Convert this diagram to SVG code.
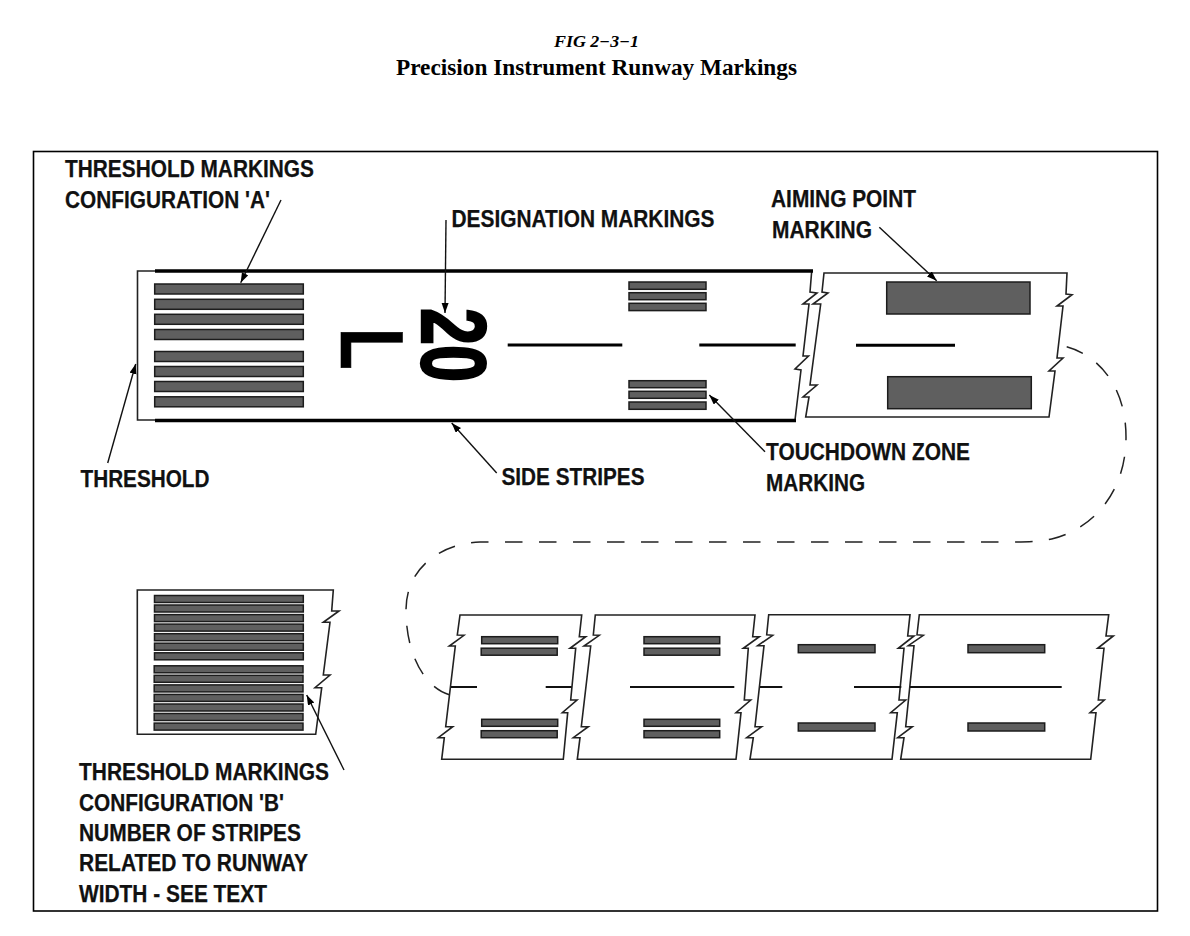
<svg xmlns="http://www.w3.org/2000/svg" width="1190" height="936" viewBox="0 0 1190 936">
<style>
.title{font-family:"Liberation Serif","Times New Roman",serif;font-weight:bold;fill:#000}
.lbl{font-family:"Liberation Sans",Arial,sans-serif;font-weight:bold;font-size:24px;fill:#111;stroke:#111;stroke-width:.25}
.des{font-family:"Liberation Sans",Arial,sans-serif;font-weight:bold;fill:#000;stroke:#000;stroke-width:2.4}
.edge{fill:#fff;stroke:#222;stroke-width:1.6;stroke-linejoin:miter}
.s{fill:#5f5f5f;stroke:#1c1c1c;stroke-width:1.5}
.side{fill:none;stroke:#000;stroke-width:3.4}
.cl{fill:none;stroke:#000;stroke-width:3}
.cl2{fill:none;stroke:#111;stroke-width:2}
.ar{fill:none;stroke:#111;stroke-width:1.4;marker-end:url(#head)}
</style>
<defs>
<marker id="head" markerUnits="userSpaceOnUse" markerWidth="11" markerHeight="8" refX="10" refY="3.5" orient="auto"><path d="M0 0L10 3.5L0 7z" fill="#000"/></marker>
</defs>
<rect width="1190" height="936" fill="#fff"/>
<g id="title">
<text class="title" x="596.5" y="47" text-anchor="middle" font-size="16" font-style="italic" textLength="85" lengthAdjust="spacingAndGlyphs">FIG 2−3−1</text>
<text class="title" x="596.5" y="75" text-anchor="middle" font-size="23" textLength="401" lengthAdjust="spacingAndGlyphs">Precision Instrument Runway Markings</text>
</g>
<rect id="frame" x="33.5" y="151.5" width="1124" height="759.5" fill="none" stroke="#000" stroke-width="1.6"/>

<g id="runway-main">
<path class="edge" d="M155 271H137.500V420H155" style="fill:none"/>
<path class="edge" style="fill:none" d="M811.700 271L810 292L817 293L803 304L809 304L803 356L808.500 356L795 369L801 370L795 420"/>
<path class="side" d="M155 271H813M155 420.500H796"/>
<path class="cl" d="M507.700 345H622.300M699.300 345H795.700"/>
</g>
<g id="threshold-a">
<rect class="s" x="154.700" y="284" width="148.600" height="10"/>
<rect class="s" x="154.700" y="299.300" width="148.600" height="10"/>
<rect class="s" x="154.700" y="314.300" width="148.600" height="10"/>
<rect class="s" x="154.700" y="329.500" width="148.600" height="10"/>
<rect class="s" x="154.700" y="351.500" width="148.600" height="10"/>
<rect class="s" x="154.700" y="366.500" width="148.600" height="10"/>
<rect class="s" x="154.700" y="381.500" width="148.600" height="10"/>
<rect class="s" x="154.700" y="396.800" width="148.600" height="10"/>
</g>
<g id="designation">
<text class="des" transform="translate(422,308) rotate(90) scale(.74,1)" font-size="90" textLength="100" lengthAdjust="spacingAndGlyphs">20</text>
<text class="des" style="stroke-width:.6" transform="translate(341,327.500) rotate(90) scale(.78,1)" font-size="89">L</text>
</g>
<g id="touchdown-main">
<rect class="s" x="629" y="282" width="77" height="7.300"/>
<rect class="s" x="629" y="292.700" width="77" height="7"/>
<rect class="s" x="629" y="303.300" width="77" height="7.300"/>
<rect class="s" x="629" y="380.700" width="77" height="7"/>
<rect class="s" x="629" y="391.300" width="77" height="7"/>
<rect class="s" x="629" y="402" width="77" height="7.300"/>
</g>
<g id="aiming-panel">
<path class="edge" d="M824 273H1067L1066 294L1072 294.700L1057 306L1063 306L1057 358L1063 358L1049 371L1055 371L1049 417H805.700L809 397L803 397L817 385L810 385L820.700 304L813 304L828 293L822 292Z"/>
<rect class="s" x="886.700" y="282" width="143.300" height="32"/>
<rect class="s" x="887.700" y="376.700" width="143.600" height="32"/>
<path class="cl" d="M856 345.300H955"/>
</g>
<g id="threshold-b">
<path class="edge" d="M137.300 590H333.300L331.700 611L339 611L323.300 622.300L330 622.300L323.300 675L330 675L315 687.700L321.700 687.700L315.700 734.300H137.300Z"/>
<rect class="s" x="154.500" y="595.500" width="148.800" height="7"/>
<rect class="s" x="154.500" y="605" width="148.800" height="7"/>
<rect class="s" x="154.500" y="614.600" width="148.800" height="7"/>
<rect class="s" x="154.500" y="624.100" width="148.800" height="7"/>
<rect class="s" x="154.500" y="633.700" width="148.800" height="7"/>
<rect class="s" x="154.500" y="643.200" width="148.800" height="7"/>
<rect class="s" x="154.500" y="652.800" width="148.800" height="7"/>
<rect class="s" x="154.200" y="665.800" width="148.800" height="7"/>
<rect class="s" x="154.200" y="675.300" width="148.800" height="7"/>
<rect class="s" x="154.200" y="684.900" width="148.800" height="7"/>
<rect class="s" x="154.200" y="694.400" width="148.800" height="7"/>
<rect class="s" x="154.200" y="704" width="148.800" height="7"/>
<rect class="s" x="154.200" y="713.500" width="148.800" height="7"/>
<rect class="s" x="154.200" y="723.100" width="148.800" height="7"/>
</g>
<g id="panel-1">
<path class="edge" d="M460 615H581.700L579.300 636.700L585.700 636.700L570 648.300L575.700 648.300L570.700 700L577 700L562.300 712.700L567.700 712.700L563.300 759.300H441.700L444.300 737.700L438.300 737.700L452.700 726.700L445.700 726.700L455.300 646L449.300 646L464 635.300L457.300 635Z"/>
<rect class="s" x="481.700" y="636.700" width="76" height="7"/>
<rect class="s" x="481.200" y="648.200" width="76" height="7"/>
<rect class="s" x="481.700" y="719.300" width="76" height="7"/>
<rect class="s" x="481.200" y="730.700" width="76" height="7"/>
<path class="cl2" d="M451 687H477M545.700 687H571.700"/>
</g>
<g id="panel-2">
<path class="edge" d="M595.300 615H755L752.700 636.700L759.300 636.700L743.300 648.300L748.300 648.300L744.300 700L750.700 700L736 712.700L741 712.700L736 759.300H577.300L580 737.700L573.300 737.700L588.300 726.700L581.300 726.700L590.700 646L584 646L599.300 635.300L593.300 635Z"/>
<rect class="s" x="644" y="636.700" width="75.700" height="7"/>
<rect class="s" x="644" y="648.200" width="75.700" height="7"/>
<rect class="s" x="644" y="719.300" width="75.700" height="7"/>
<rect class="s" x="644" y="730.700" width="75.700" height="7"/>
<path class="cl2" d="M630 687H734.300"/>
</g>
<g id="panel-3">
<path class="edge" d="M768.700 614.700H910L907.700 636L914 636L898.300 648.300L904 648.300L899 700L905.700 700L890.700 712.700L897.300 712.700L892 759.300H750L753.300 737.700L746.700 737.700L761.700 726.700L755 726.700L764 645.700L757.700 645.700L772.700 635.300L766.700 634.700Z"/>
<rect class="s" x="798.300" y="644.700" width="76.700" height="8"/>
<rect class="s" x="798.300" y="723" width="76.700" height="8"/>
<path class="cl2" d="M760 687H782.300M854 687H901.300"/>
</g>
<g id="panel-4">
<path class="edge" d="M919.300 614.700H1108.700L1106 636L1113.300 636L1097.700 648.300L1104 648.300L1098.300 700L1104.300 700L1090 712.700L1096 712.700L1090.700 759.300H900.700L904 737.700L897.700 737.700L912.300 726.700L905.700 726.700L914 645.700L908.300 645.700L923.300 635.300L917 634.700Z"/>
<rect class="s" x="968" y="644.700" width="76.700" height="8"/>
<rect class="s" x="968" y="723" width="76.700" height="8"/>
<path class="cl2" d="M910 687H1061.700"/>
</g>
<g id="connectors">
<path d="M1066.700 346.700C1097 355 1126 385 1126 437C1126 495 1090 530 1051.700 539C1040 541.500 1030 542 1010 542H480C445 543 406 565 406 610C406 655 425 688 450 695" fill="none" stroke="#222" stroke-width="1.500" stroke-dasharray="17.500 16.500"/>
<path class="ar" d="M281 200L240.700 282.700"/>
<path class="ar" d="M107.700 463L135.700 364"/>
<path class="ar" d="M446 220L445 313"/>
<path class="ar" d="M496.700 473L451.700 423"/>
<path class="ar" d="M765 451.700L709.300 395"/>
<path class="ar" d="M879.300 227.300L936.700 280.700"/>
<path class="ar" d="M344 770L306.700 695"/>
</g>
<g id="labels">
<text class="lbl" x="65" y="177" textLength="249" lengthAdjust="spacingAndGlyphs">THRESHOLD MARKINGS</text>
<text class="lbl" x="65" y="207.500" textLength="205" lengthAdjust="spacingAndGlyphs">CONFIGURATION 'A'</text>
<text class="lbl" x="451.500" y="226.700" textLength="263" lengthAdjust="spacingAndGlyphs">DESIGNATION MARKINGS</text>
<text class="lbl" x="771" y="207.300" textLength="145" lengthAdjust="spacingAndGlyphs">AIMING POINT</text>
<text class="lbl" x="772" y="238.300" textLength="100" lengthAdjust="spacingAndGlyphs">MARKING</text>
<text class="lbl" x="80.500" y="487" textLength="129" lengthAdjust="spacingAndGlyphs">THRESHOLD</text>
<text class="lbl" x="501.500" y="485" textLength="143" lengthAdjust="spacingAndGlyphs">SIDE STRIPES</text>
<text class="lbl" x="766" y="460" textLength="204" lengthAdjust="spacingAndGlyphs">TOUCHDOWN ZONE</text>
<text class="lbl" x="766" y="490.700" textLength="99" lengthAdjust="spacingAndGlyphs">MARKING</text>
<text class="lbl" x="79" y="780" textLength="250" lengthAdjust="spacingAndGlyphs">THRESHOLD MARKINGS</text>
<text class="lbl" x="79" y="811" textLength="205" lengthAdjust="spacingAndGlyphs">CONFIGURATION 'B'</text>
<text class="lbl" x="79" y="841" textLength="222" lengthAdjust="spacingAndGlyphs">NUMBER OF STRIPES</text>
<text class="lbl" x="79" y="871" textLength="229" lengthAdjust="spacingAndGlyphs">RELATED TO RUNWAY</text>
<text class="lbl" x="79" y="902" textLength="188" lengthAdjust="spacingAndGlyphs">WIDTH - SEE TEXT</text>
</g>
</svg>
